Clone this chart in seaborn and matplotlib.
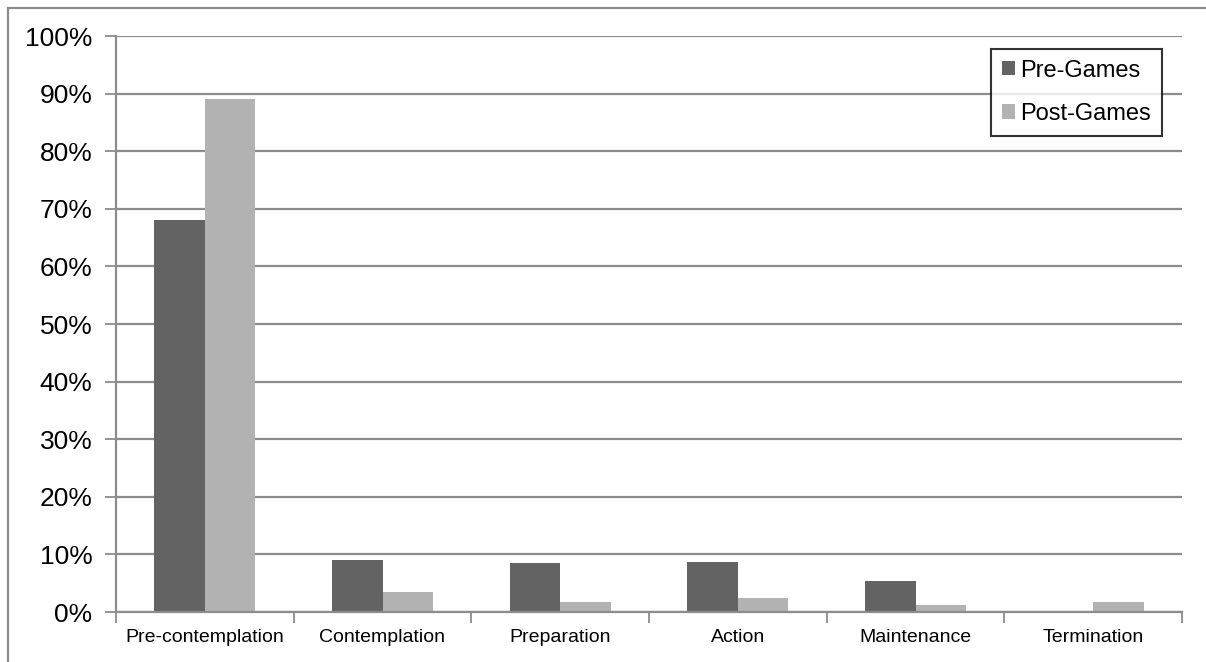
import matplotlib
matplotlib.use("Agg")
import matplotlib.pyplot as plt
from matplotlib.patches import Rectangle
from matplotlib.ticker import PercentFormatter, FixedLocator
import seaborn as sns
import pandas as pd

# Stages of change, share of respondents before and after the games
stages = ["Pre-contemplation", "Contemplation", "Preparation", "Action",
          "Maintenance", "Termination"]
pre_games = [0.681, 0.090, 0.085, 0.086, 0.054, 0.0]
post_games = [0.890, 0.034, 0.017, 0.024, 0.012, 0.0175]
series_names = ["Pre-Games", "Post-Games"]
y_ticks = [i / 10 for i in range(11)]

df = pd.DataFrame({
    "stage": stages * 2,
    "value": pre_games + post_games,
    "series": [series_names[0]] * len(stages) + [series_names[1]] * len(stages),
})

sns.set_style("white")
plt.rcParams["font.family"] = ["Liberation Sans", "DejaVu Sans"]

W, H = 1206, 662
fig = plt.figure(figsize=(W / 100, H / 100), dpi=100)
ax = fig.add_axes([116 / W, 1 - 612 / H, (1182 - 116) / W, (612 - 36) / H])

grid_c = "#8c8c8c"
sns.barplot(data=df, x="stage", y="value", hue="series", order=stages,
            hue_order=series_names, palette=["#636363", "#b2b2b2"],
            width=0.57, saturation=1, linewidth=0, ax=ax, legend=True)

ax.set_xlim(-0.5, len(stages) - 0.5)
ax.set_ylim(0, 1.0)
ax.yaxis.set_major_locator(FixedLocator(y_ticks))
ax.yaxis.set_major_formatter(PercentFormatter(1.0, decimals=0))
ax.set_xlabel("")
ax.set_ylabel("")

# horizontal grid
ax.set_axisbelow(True)
ax.yaxis.grid(True, color=grid_c, linewidth=1.6)
ax.xaxis.grid(False)

# spines
for s in ["top", "right"]:
    ax.spines[s].set_visible(False)
for s in ["left", "bottom"]:
    ax.spines[s].set_color(grid_c)
    ax.spines[s].set_linewidth(1.6)

# tick marks: y on the left, x at category boundaries
ax.tick_params(axis="y", which="major", direction="out", length=8, width=1.3,
               color=grid_c, labelsize=19, labelcolor="black", pad=9, left=True)
ax.tick_params(axis="x", which="major", length=0, labelsize=14,
               labelcolor="black", pad=12)
ax.set_xticks([i - 0.5 for i in range(len(stages) + 1)], minor=True)
ax.tick_params(axis="x", which="minor", direction="out", length=8, width=1.3,
               color=grid_c, bottom=True)

# legend
leg = ax.legend(loc="upper right", bbox_to_anchor=(1162 / W, 1 - 49 / H),
                bbox_transform=fig.transFigure, fontsize=17, frameon=True,
                fancybox=False, handlelength=0.55, handleheight=0.55,
                handletextpad=0.25, borderpad=0.45, labelspacing=0.9,
                borderaxespad=0)
leg.get_frame().set_edgecolor("black")
leg.get_frame().set_linewidth(1.5)
for t in leg.get_texts():
    t.set_color("black")

# outer frame around the chart
fig.patches.append(Rectangle((7.5 / W, -0.05), (W - 7.5 + 5) / W, 1 - 7.5 / H + 0.05,
                             transform=fig.transFigure, fill=False,
                             edgecolor="#8c8c8c", linewidth=1.6, zorder=0))

fig.savefig("out.png", dpi=100)
